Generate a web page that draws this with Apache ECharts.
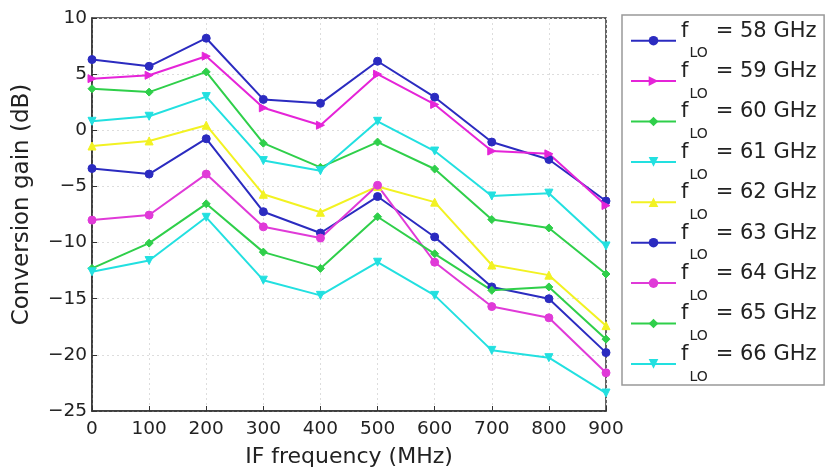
<!DOCTYPE html>
<html><head><meta charset="utf-8">
<script src="https://cdn.jsdelivr.net/npm/echarts@6/dist/echarts.min.js"></script>
<style>html,body{margin:0;padding:0;background:#fff}#c{width:827px;height:473px}</style>
</head><body><div id="c"></div>
<script>
const ifFreq = [0,100,200,300,400,500,600,700,800,900];
const loNames = ['58','59','60','61','62','63','64','65','66'];
const g58 = [6.3,5.7,8.2,2.75,2.4,6.15,2.95,-1.05,-2.6,-6.3];
const g59 = [4.6,4.9,6.6,2.0,0.45,5.0,2.3,-1.85,-2.1,-6.7];
const g60 = [3.7,3.4,5.2,-1.15,-3.3,-1.05,-3.45,-7.95,-8.7,-12.8];
const g61 = [0.8,1.25,3.0,-2.7,-3.6,0.8,-1.85,-5.85,-5.6,-10.3];
const g62 = [-1.4,-0.95,0.45,-5.7,-7.3,-5.0,-6.4,-12.0,-12.9,-17.4];
const g63 = [-3.4,-3.9,-0.75,-7.25,-9.15,-5.9,-9.5,-13.95,-15.0,-19.8];
const g64 = [-8.0,-7.55,-3.9,-8.6,-9.6,-4.9,-11.75,-15.7,-16.7,-21.6];
const g65 = [-12.3,-10.05,-6.55,-10.85,-12.3,-7.7,-11.0,-14.25,-13.95,-18.6];
const g66 = [-12.6,-11.6,-7.75,-13.35,-14.7,-11.75,-14.7,-19.6,-20.25,-23.4];
const allGains = [g58,g59,g60,g61,g62,g63,g64,g65,g66];
const colors = ['#2b2bc0','#e524d8','#2fcf4a','#22e0e0','#f2f222','#2b2bc0','#e03ad8','#2fcf4a','#22e0e0'];
const symbols = ['circle','triangle','diamond','triangle','triangle','circle','circle','diamond','triangle'];
const symRot = [0,-90,0,180,0,0,0,0,180];
const yTicks = [-25,-20,-15,-10,-5,0,5,10];

const font = 'DejaVu Sans, sans-serif';
const series = allGains.map((arr,i)=>({
  name: loNames[i],
  type: 'line',
  data: arr.map((v,j)=>[ifFreq[j], v]),
  color: colors[i],
  lineStyle: {width: 2, color: colors[i]},
  symbol: symbols[i],
  symbolRotate: symRot[i],
  symbolSize: 8,
  itemStyle: {color: colors[i], borderColor: colors[i]},
  showAllSymbol: true
}));

const chart = echarts.init(document.getElementById('c'));
chart.setOption({
  animation: false,
  backgroundColor: '#fff',
  grid: {left: 92, right: 221, top: 18, bottom: 60, show: true, borderColor: '#333', borderWidth: 1.5, backgroundColor: 'transparent'},
  legend: {
    orient: 'vertical', left: 622, top: 15,
    padding: [5.7, 7, 1, 8],
    borderColor: '#999', borderWidth: 1.5, backgroundColor: '#fff',
    itemWidth: 45, itemHeight: 12, itemGap: 0.4,
    formatter: n => '{f|f}{s|LO}{f|= ' + n + ' GHz}{h| }',
    textStyle: {
      rich: {
        f: {fontFamily: font, fontSize: 21, color: '#222', lineHeight: 22, verticalAlign: 'top'},
        s: {fontFamily: font, fontSize: 14, color: '#222', lineHeight: 16, verticalAlign: 'bottom', padding: [0, 8, 0, 1]},
        h: {fontFamily: font, fontSize: 2, lineHeight: 40, verticalAlign: 'middle'}
      }
    },
    data: loNames
  },
  xAxis: {
    type: 'value', min: 0, max: 900, interval: 100,
    name: 'IF frequency (MHz)', nameLocation: 'middle', nameGap: 35,
    nameTextStyle: {fontFamily: font, fontSize: 22, color: '#222'},
    axisLine: {onZero: false, lineStyle: {color: '#333', width: 1.5}},
    axisTick: {inside: true, length: 5, lineStyle: {color: '#333'}},
    axisLabel: {fontFamily: font, fontSize: 18.5, color: '#222', margin: 9},
    splitLine: {show: true, lineStyle: {color: '#ddd', type: [2,3], width: 1}}
  },
  yAxis: {
    type: 'value', min: -25, max: 10, interval: 5,
    name: 'Conversion gain (dB)', nameLocation: 'middle', nameGap: 58,
    nameTextStyle: {fontFamily: font, fontSize: 23, color: '#222', padding: [0, 0, 0, 20]},
    axisLine: {show: true, onZero: false, lineStyle: {color: '#333', width: 1.5}},
    axisTick: {show: true, inside: true, length: 5, lineStyle: {color: '#333'}},
    axisLabel: {fontFamily: font, fontSize: 18.5, color: '#222', margin: 5,
      formatter: v => yTicks.includes(v) ? String(v).replace('-', '\u2212') : ''},
    splitLine: {show: true, lineStyle: {color: '#ddd', type: [2,3], width: 1}}
  },
  series: series
});
</script>
</body></html>
